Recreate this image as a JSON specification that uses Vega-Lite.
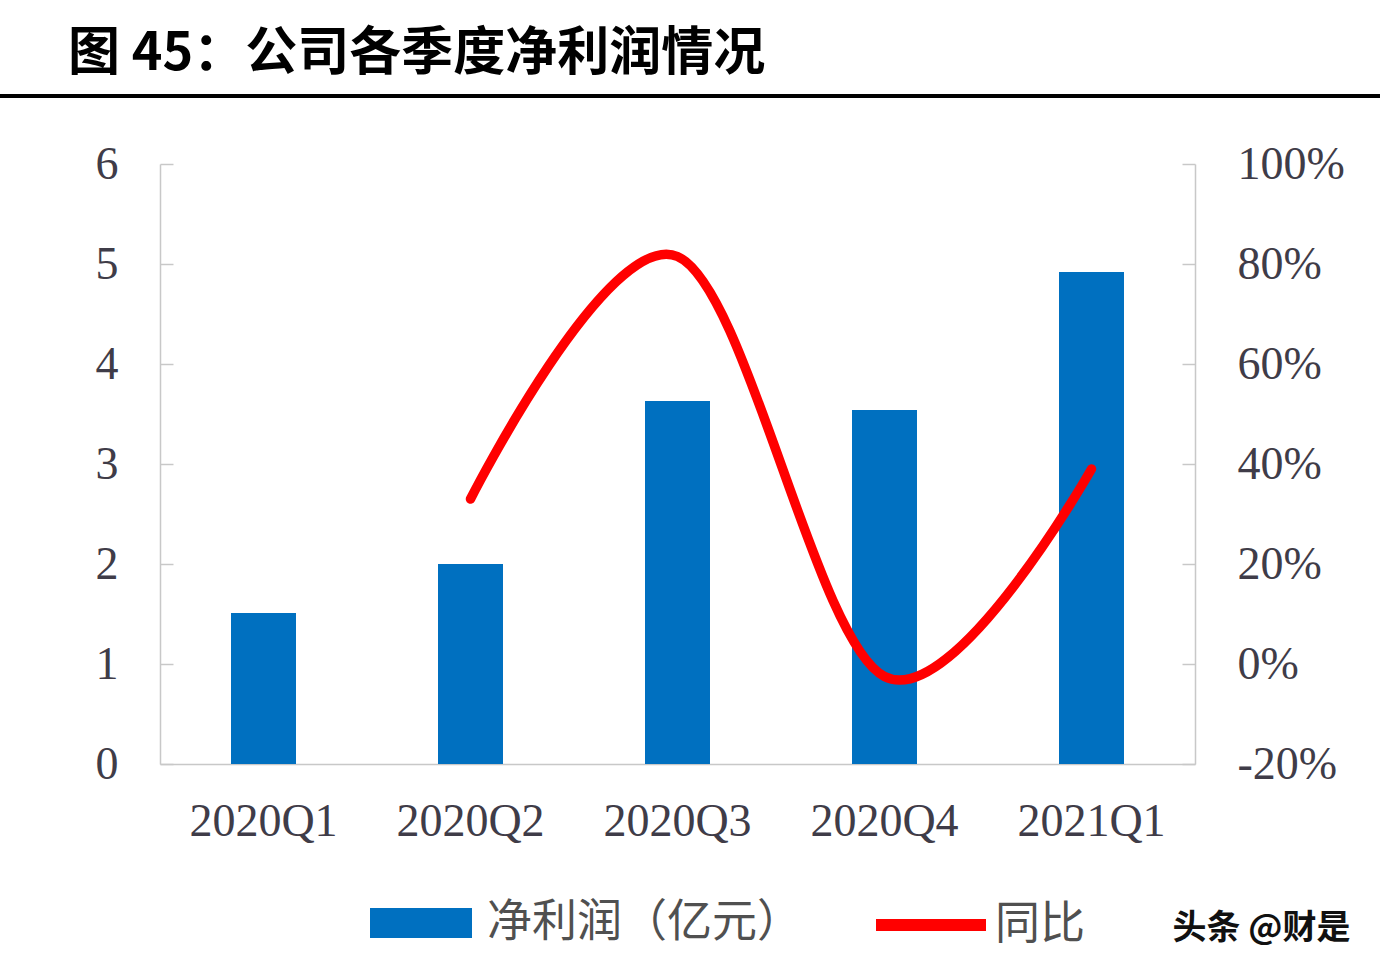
{
  "$schema": "https://vega.github.io/schema/vega-lite/v6.json",
  "autosize": {"type": "none"},
  "width": 1035,
  "height": 600,
  "padding": {"left": 160, "top": 164, "right": 185, "bottom": 210},
  "background": "#ffffff",
  "config": {
    "view": {"stroke": null},
    "axis": {"grid": false, "labelFont": "Liberation Serif", "labelFontSize": 46, "labelColor": "#3f3c48", "domainColor": "#c8c8c8", "domainWidth": 1.5, "tickColor": "#c8c8c8", "tickWidth": 1.5},
    "legend": {"labelFont": "Noto Sans CJK SC", "labelFontSize": 45, "labelColor": "#505050", "padding": 0, "title": null, "labelLimit": 0}
  },
  "title": {
    "text": "图 45：公司各季度净利润情况",
    "font": "Noto Sans CJK SC",
    "fontSize": 52,
    "fontWeight": "bold",
    "color": "#000000",
    "anchor": "start",
    "frame": "group",
    "dx": -92,
    "offset": 13
  },
  "data": {
    "values": [
      {"quarter": "2020Q1", "profit": 1.51, "yoy": null},
      {"quarter": "2020Q2", "profit": 2.0, "yoy": 0.33},
      {"quarter": "2020Q3", "profit": 3.63, "yoy": 0.815},
      {"quarter": "2020Q4", "profit": 3.54, "yoy": -0.025},
      {"quarter": "2021Q1", "profit": 4.92, "yoy": 0.39}
    ]
  },
  "encoding": {
    "x": {
      "field": "quarter", "type": "nominal", "sort": null,
      "scale": {"paddingInner": 0.686, "paddingOuter": 0.343},
      "axis": {"title": null, "labelAngle": 0, "ticks": false, "labelPadding": 35}
    }
  },
  "layer": [
    {
      "layer": [
        {
          "mark": {"type": "bar", "color": "#0070C0"},
          "encoding": {
            "y": {
              "field": "profit", "type": "quantitative",
              "scale": {"domain": [0, 6], "nice": false},
              "axis": {"title": null, "values": [0, 1, 2, 3, 4, 5, 6], "format": "d", "tickSize": -13, "labelPadding": 55, "orient": "left"}
            },
            "fill": {
              "datum": "净利润（亿元）",
              "scale": {"range": ["#0070C0"]},
              "legend": {
                "orient": "none", "legendX": 210, "legendY": 708,
                "symbolType": "M-1,-0.294H1V0.294H-1Z", "symbolSize": 10404, "symbolStrokeWidth": 0,
                "labelOffset": 15
              }
            }
          }
        },
        {
          "data": {"values": [{"sep": 6.68, "from": "2020Q1", "to": "2021Q1"}]},
          "mark": {"type": "rule", "color": "#000000", "strokeWidth": 4, "xOffset": -231, "x2Offset": 256},
          "encoding": {
            "x": {"field": "from", "type": "nominal", "bandPosition": 0},
            "x2": {"field": "to", "bandPosition": 1},
            "y": {"field": "sep", "type": "quantitative"}
          }
        },
        {
          "data": {"values": [{"quarter": "2021Q1", "pos": -1.65, "note": "头条 @财是"}]},
          "mark": {"type": "text", "font": "Noto Sans CJK SC", "fontSize": 34, "fontWeight": "bold", "color": "#111111", "dx": 170, "align": "center", "baseline": "middle"},
          "encoding": {
            "y": {"field": "pos", "type": "quantitative"},
            "text": {"field": "note"}
          }
        }
      ]
    },
    {
      "mark": {"type": "line", "interpolate": "cardinal", "strokeWidth": 9.5, "strokeCap": "round", "strokeJoin": "round"},
      "transform": [{"filter": "datum.yoy != null"}],
      "encoding": {
        "y": {
          "field": "yoy", "type": "quantitative",
          "scale": {"domain": [-0.2, 1.0], "nice": false},
          "axis": {"title": null, "orient": "right", "values": [-0.2, 0, 0.2, 0.4, 0.6, 0.8, 1.0], "format": ".0%", "labelExpr": "replace(datum.label, '−', '-')", "tickSize": -13, "labelPadding": 55}
        },
        "stroke": {
          "datum": "同比",
          "scale": {"range": ["#FF0000"]},
          "legend": {
            "orient": "none", "legendX": 710, "legendY": 700,
            "symbolType": "stroke", "symbolSize": 12100, "symbolStrokeWidth": 12,
            "labelOffset": 3,
            "symbolStrokeColor": "#FF0000"
          }
        }
      }
    }
  ],
  "resolve": {"scale": {"y": "independent", "fill": "independent", "stroke": "independent"}}
}
